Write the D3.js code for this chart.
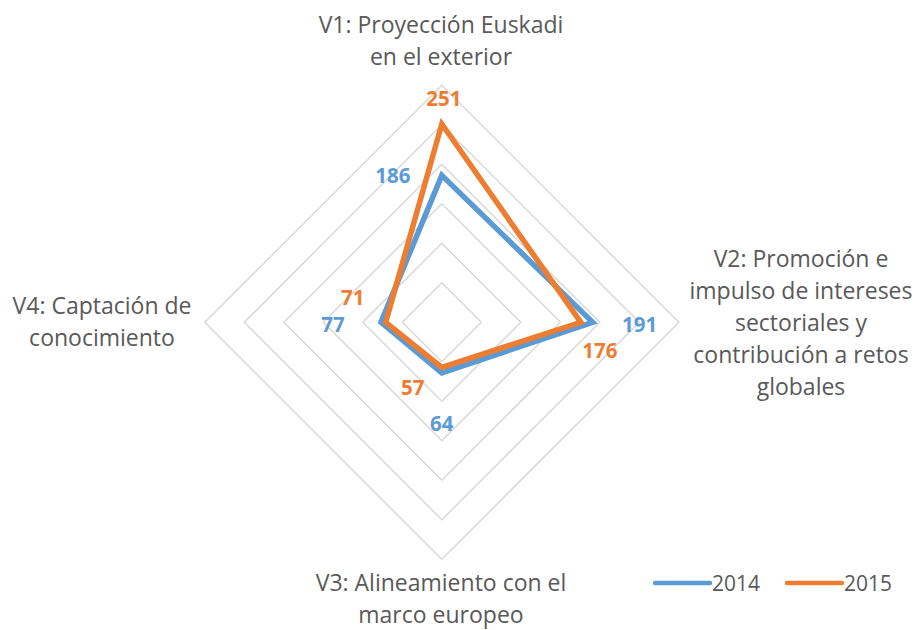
<!DOCTYPE html>
<html>
<head>
<meta charset="utf-8">
<script src="https://cdn.jsdelivr.net/npm/d3@7"></script>
<style>
  body { margin: 0; background: #fff; }
  text { font-family: "Open Sans", Lato, sans-serif; }
</style>
</head>
<body>
<div class="radar-container"></div>
<script>
var wi = 916;
var he = 630;

// data
var categories = ["V1", "V2", "V3", "V4"];
var categoryLabels = [
  ["V1: Proyección Euskadi", "en el exterior"],
  ["V2: Promoción e", "impulso de intereses", "sectoriales y", "contribución a retos", "globales"],
  ["V3: Alineamiento con el", "marco europeo"],
  ["V4: Captación de", "conocimiento"]
];
var seriesNames = ["2014", "2015"];
var values2014 = [186, 191, 64, 77];
var values2015 = [251, 176, 57, 71];
var gridTicks = [50, 100, 150, 200, 250, 300];

var colors = ["#5B9BD5", "#ED7D31"];
var cx = 441.8, cy = 322.3, radius = 237;

var rScale = d3.scaleLinear().domain([0, 300]).range([0, radius]);
var angle = d3.scalePoint().domain(categories).range([0, 270]); // degrees, clockwise from top

function pt(cat, v) {
  var a = angle(cat) * Math.PI / 180;
  return [cx + Math.sin(a) * rScale(v), cy - Math.cos(a) * rScale(v)];
}

var svg = d3.select(".radar-container")
  .append("svg")
  .attr("width", wi)
  .attr("height", he);

// grid diamonds
svg.append("g")
  .selectAll("polygon")
  .data(gridTicks)
  .enter()
  .append("polygon")
  .attr("points", function(t) {
    return categories.map(function(c) { return pt(c, t).join(","); }).join(" ");
  })
  .attr("fill", "none")
  .attr("stroke", "#D9D9D9")
  .attr("stroke-width", 1.5);

// series lines
var series = [values2014, values2015];
var lineGen = d3.line().curve(d3.curveLinearClosed);

svg.append("g")
  .selectAll("path")
  .data(series)
  .enter()
  .append("path")
  .attr("d", function(vals) {
    return lineGen(categories.map(function(c, i) { return pt(c, vals[i]); }));
  })
  .attr("fill", "none")
  .attr("stroke", function(d, i) { return colors[i]; })
  .attr("stroke-width", 5.5)
  .attr("stroke-linejoin", "miter");

// data labels (offsets from point)
var labelOffsets = [
  [[-49, 0], [47, 2], [0, 51], [-48, 2]],
  [[2, -25], [19, 28], [-29, 20], [-33, -25]]
];

series.forEach(function(vals, s) {
  svg.append("g")
    .selectAll("text")
    .data(vals)
    .enter()
    .append("text")
    .attr("x", function(v, i) { return pt(categories[i], v)[0] + labelOffsets[s][i][0]; })
    .attr("y", function(v, i) { return pt(categories[i], v)[1] + labelOffsets[s][i][1]; })
    .attr("dy", "0.36em")
    .attr("text-anchor", "middle")
    .attr("font-size", 20.5)
    .attr("font-weight", "bold")
    .attr("fill", colors[s])
    .text(function(v) { return v; });
});

// category labels
var catPos = [[441, 33], [801, 267], [441, 591], [102, 314]];
var catG = svg.append("g");
categoryLabels.forEach(function(lines, i) {
  var t = catG.append("text")
    .attr("text-anchor", "middle")
    .attr("font-size", 23)
    .attr("fill", "#595959");
  lines.forEach(function(l, j) {
    t.append("tspan")
      .attr("x", catPos[i][0])
      .attr("y", catPos[i][1] + j * 32)
      .text(l);
  });
});

// legend
var legend = svg.append("g");
var legendX = [655, 787];
seriesNames.forEach(function(name, i) {
  legend.append("line")
    .attr("x1", legendX[i]).attr("x2", legendX[i] + 55)
    .attr("y1", 583).attr("y2", 583)
    .attr("stroke", colors[i])
    .attr("stroke-width", 4.5)
    .attr("stroke-linecap", "round");
  legend.append("text")
    .attr("x", legendX[i] + 57)
    .attr("y", 591)
    .attr("font-size", 21)
    .attr("fill", "#595959")
    .text(name);
});
</script>
</body>
</html>
